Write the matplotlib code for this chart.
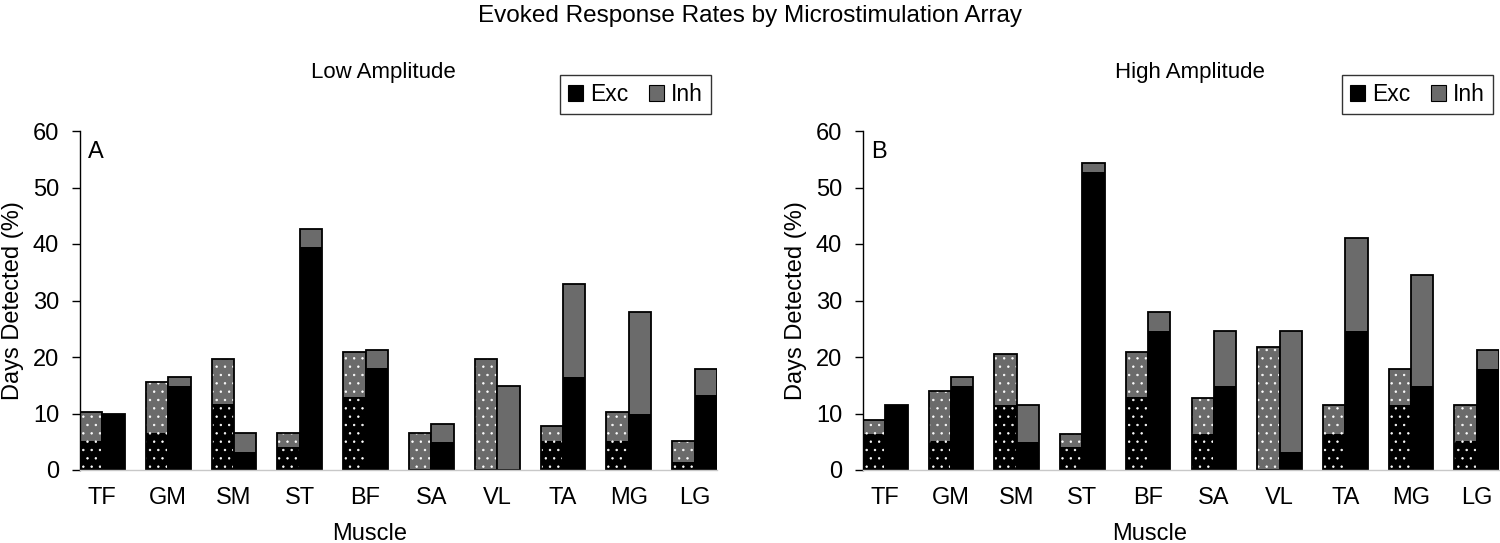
import matplotlib
matplotlib.use("Agg")
import matplotlib.pyplot as plt
import numpy as np
from matplotlib.patches import Patch

plt.rcParams["font.family"] = ["Liberation Sans", "DejaVu Sans"]
plt.rcParams["hatch.linewidth"] = 0.5

muscles = ["TF", "GM", "SM", "ST", "BF", "SA", "VL", "TA", "MG", "LG"]

# Low amplitude: dotted bar (first array) and solid bar (second array)
low_dot_exc = [5.1, 6.6, 11.7, 4.0, 13.0, 0.0, 0.0, 5.1, 5.1, 1.4]
low_dot_inh = [5.1, 8.9, 7.9, 2.5, 7.8, 6.5, 19.6, 2.6, 5.2, 3.7]
low_sol_exc = [9.85, 14.9, 3.2, 39.4, 18.0, 4.9, 0.0, 16.5, 9.85, 13.2]
low_sol_inh = [0.0, 1.6, 3.3, 3.3, 3.2, 3.2, 14.9, 16.4, 18.05, 4.7]

# High amplitude
high_dot_exc = [6.4, 5.1, 11.5, 4.0, 13.0, 6.4, 0.0, 6.4, 11.5, 5.1]
high_dot_inh = [2.45, 8.9, 9.0, 2.3, 7.8, 6.3, 21.7, 5.1, 6.4, 6.4]
high_sol_exc = [11.5, 14.9, 4.9, 52.7, 24.6, 14.9, 3.2, 24.6, 14.9, 17.9]
high_sol_inh = [0.0, 1.6, 6.6, 1.6, 3.3, 9.7, 21.4, 16.4, 19.6, 3.3]

EXC = "#000000"
INH = "#6b6b6b"
W = 0.34

fig = plt.figure(figsize=(15, 5.43), dpi=100)
fig.suptitle("Evoked Response Rates by Microstimulation Array", fontsize=17.5, y=0.99)

ax_a = fig.add_axes([80 / 1500, 73 / 543, 637 / 1500, 339 / 543])
ax_b = fig.add_axes([863 / 1500, 73 / 543, 636 / 1500, 339 / 543])


def draw_panel(ax, dot_exc, dot_inh, sol_exc, sol_inh, title, letter, title_x, xlabel_x):
    x = np.arange(len(muscles))
    xd = x - W / 2
    xs = x + W / 2
    # dotted bars: fill with white dot hatch, then black outline
    ax.bar(xd, dot_exc, W, color=EXC, edgecolor="white", hatch="..", linewidth=0)
    ax.bar(xd, dot_inh, W, bottom=dot_exc, color=INH, edgecolor="white", hatch="..", linewidth=0)
    ax.bar(xd, np.add(dot_exc, dot_inh), W, facecolor="none", edgecolor="black", linewidth=1.3)
    # solid bars
    ax.bar(xs, sol_exc, W, color=EXC, linewidth=0)
    ax.bar(xs, sol_inh, W, bottom=sol_exc, color=INH, linewidth=0)
    ax.bar(xs, np.add(sol_exc, sol_inh), W, facecolor="none", edgecolor="black", linewidth=1.3)

    ax.set_xlim(-0.34, 9.34)
    ax.set_ylim(0, 60)
    ax.set_yticks(range(0, 61, 10))
    ax.set_xticks(x)
    ax.set_xticklabels(muscles)
    ax.tick_params(axis="x", length=0, labelsize=17, pad=12)
    ax.tick_params(axis="y", length=6, width=1, labelsize=17, pad=9)
    for s in ("top", "right"):
        ax.spines[s].set_visible(False)
    ax.spines["bottom"].set_color("#c8c8c8")
    ax.spines["bottom"].set_linewidth(1)
    ax.spines["left"].set_linewidth(1)
    ax.set_xlabel("Muscle", fontsize=17, labelpad=10, x=xlabel_x)
    ax.set_ylabel("Days Detected (%)", fontsize=17, labelpad=6)
    ax.set_title(title, fontsize=16, pad=38, x=title_x)
    ax.text(0.012, 0.97, letter, transform=ax.transAxes, fontsize=17, va="top", ha="left")

    handles = [Patch(facecolor=EXC, edgecolor="black", linewidth=0.8, label="Exc"),
               Patch(facecolor=INH, edgecolor="black", linewidth=0.8, label="Inh")]
    leg = ax.legend(handles=handles, ncol=2, loc="upper right", bbox_to_anchor=(0.99, 1.165),
                    fontsize=16.5, frameon=True, fancybox=False, handlelength=0.65, handleheight=0.65,
                    handletextpad=0.3, columnspacing=0.9, borderpad=0.35, borderaxespad=0)
    leg.get_frame().set_edgecolor("black")
    leg.get_frame().set_linewidth(1)


draw_panel(ax_a, low_dot_exc, low_dot_inh, low_sol_exc, low_sol_inh, "Low Amplitude", "A", 0.476, 0.455)
draw_panel(ax_b, high_dot_exc, high_dot_inh, high_sol_exc, high_sol_inh, "High Amplitude", "B", 0.514, 0.451)

fig.savefig("out.png", dpi=100)
